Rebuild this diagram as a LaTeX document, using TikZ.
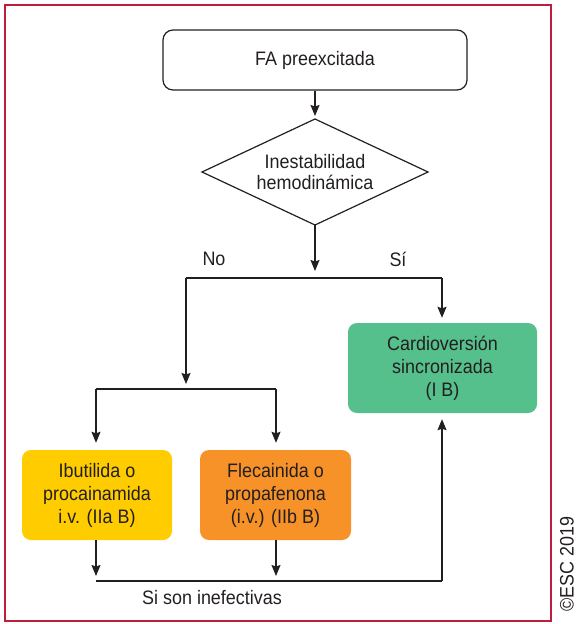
\documentclass[tikz,border=0pt]{standalone}
\usepackage{fontspec}
\setmainfont{Liberation Sans}[FakeStretch=0.92]
\usetikzlibrary{arrows.meta}
\definecolor{framered}{RGB}{190,30,60}
\definecolor{boxyellow}{RGB}{255,204,0}
\definecolor{boxorange}{RGB}{246,146,40}
\definecolor{boxgreen}{RGB}{85,192,140}
\definecolor{ink}{RGB}{35,31,32}
\begin{document}
\begin{tikzpicture}[x=1pt,y=-1pt,
  every node/.style={font=\fontsize{19.5}{23}\selectfont, text=ink, align=center},
  box/.style={rounded corners=9pt, inner sep=0pt, minimum height=90pt},
  link/.style={draw=ink, line width=1.2pt},
  arr/.style={link, -{Stealth[length=11pt,width=9pt,inset=1.5pt]}},
  lbl/.style={inner sep=0pt},
]
\useasboundingbox (0,0) rectangle (577,624);
% outer frame
\draw[framered, line width=2pt] (5,5) rectangle (551,621);

% start box
\node[box, draw=ink, line width=1.2pt, rounded corners=10pt, minimum width=304pt, minimum height=60pt]
  (start) at (315,60) {FA preexcitada};

% decision diamond
\coordinate (qn) at (315,119);
\coordinate (qe) at (428,172);
\coordinate (qs) at (315,225);
\coordinate (qw) at (202,172);
\draw[link] (qn) -- (qe) -- (qs) -- (qw) -- cycle;
\node[font=\fontsize{19.5}{21}\selectfont] (question) at (315,172) {Inestabilidad\\hemodinámica};

% outcome boxes
\node[box, fill=boxgreen, minimum width=189pt] (cardio) at (442.5,368)
  {Cardioversión\\sincronizada\\(I B)};
\node[box, fill=boxyellow, minimum width=150pt] (ibut) at (97,495)
  {Ibutilida o\\procainamida\\i.v. (IIa B)};
\node[box, fill=boxorange, minimum width=151pt] (fleca) at (275.5,495)
  {Flecainida o\\propafenona\\(i.v.) (IIb B)};

% branch points
\coordinate (split) at (315,278);
\coordinate (noTop) at (186,278);
\coordinate (siTop) at (442,278);
\coordinate (noEnd) at (186,389);
\coordinate (drugL) at (96,389);
\coordinate (drugR) at (276,389);
\coordinate (failL) at (96,581);
\coordinate (failM) at (276,581);
\coordinate (failR) at (442,581);

% connectors
\draw[arr, shorten >=3pt] (start.south) -- (qn);
\draw[arr, shorten >=7pt] (qs) -- (split);
\draw[link] (noTop) -- (siTop);
\draw[arr, shorten >=5pt] (siTop) -- (cardio.north -| siTop);
\draw[arr, shorten >=5pt] (noTop) -- (noEnd);
\draw[link] (drugL) -- (drugR);
\draw[arr, shorten >=7pt] (drugL) -- (ibut.north -| drugL);
\draw[arr, shorten >=7pt] (drugR) -- (fleca.north -| drugR);
\draw[arr, shorten >=5pt] (ibut.south -| failL) -- (failL);
\draw[arr, shorten >=5pt] (fleca.south -| failM) -- (failM);
\draw[link] (failL) -- (failR);
\draw[arr, shorten >=6pt] (failR) -- (cardio.south -| failR);

% labels
\node[lbl] (no) at (214,259) {No};
\node[lbl] (si) at (398,259) {Sí};
\node[lbl] (fail) at (212,598) {Si son inefectivas};
\node[lbl, rotate=90] (copy) at (567,564) {©ESC 2019};
\end{tikzpicture}
\end{document}
